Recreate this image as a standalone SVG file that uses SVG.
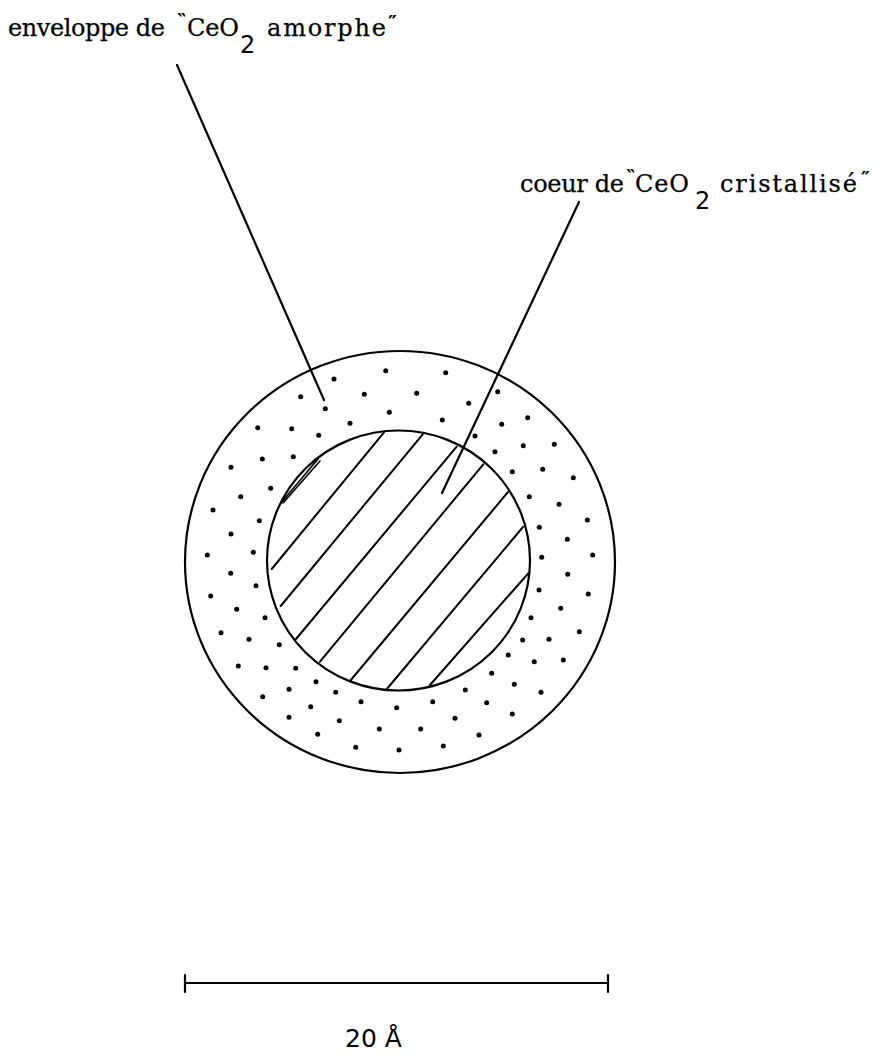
<svg xmlns="http://www.w3.org/2000/svg" width="893" height="1053" viewBox="0 0 893 1053">
<style>
.lbl{font-family:"DejaVu Serif","Liberation Serif",serif;font-size:24px;fill:#000;stroke:#000;stroke-width:0.25}
.sub{font-family:"DejaVu Sans","Liberation Sans",sans-serif;font-size:24px;fill:#000}
.q{font-family:"DejaVu Sans","Liberation Sans",sans-serif;font-size:20px;font-weight:bold;fill:#000}
.ln{stroke:#000;stroke-width:2.2;fill:none;stroke-linecap:round}
.dot{fill:#000}
</style>
<rect width="893" height="1053" fill="#fff"/>
<g id="shell">
<ellipse class="ln" cx="400" cy="562" rx="215" ry="211"/>
<g class="dot">
<circle cx="334" cy="379" r="2.5"/><circle cx="385.7" cy="370.7" r="2.5"/><circle cx="445.7" cy="372.7" r="2.5"/>
<circle cx="300.7" cy="396.7" r="2.5"/><circle cx="325.3" cy="408.7" r="2.5"/><circle cx="364.3" cy="394.3" r="2.5"/>
<circle cx="416.7" cy="393.3" r="2.5"/><circle cx="468.7" cy="403.3" r="2.5"/><circle cx="497.7" cy="391.7" r="2.5"/>
<circle cx="389.3" cy="412.3" r="2.5"/><circle cx="350" cy="423.3" r="2.5"/><circle cx="442.3" cy="420" r="2.5"/>
<circle cx="257.7" cy="427.7" r="2.5"/><circle cx="291.7" cy="428.7" r="2.5"/><circle cx="318.7" cy="435.3" r="2.5"/>
<circle cx="501.7" cy="424.3" r="2.5"/><circle cx="527.7" cy="417.7" r="2.5"/><circle cx="475" cy="436" r="2.5"/>
<circle cx="523.3" cy="445.7" r="2.5"/><circle cx="554.3" cy="444.3" r="2.5"/><circle cx="495" cy="451.7" r="2.5"/>
<circle cx="262.3" cy="459" r="2.5"/><circle cx="293.3" cy="456.7" r="2.5"/><circle cx="231" cy="467.3" r="2.5"/>
<circle cx="512.3" cy="471.7" r="2.5"/><circle cx="542.7" cy="469.3" r="2.5"/><circle cx="573.3" cy="477.7" r="2.5"/>
<circle cx="270.7" cy="488.3" r="2.5"/><circle cx="240.7" cy="496.7" r="2.5"/><circle cx="529.3" cy="496.7" r="2.5"/>
<circle cx="559" cy="504.3" r="2.5"/><circle cx="213" cy="510" r="2.5"/><circle cx="259.3" cy="520.7" r="2.5"/>
<circle cx="587.3" cy="520" r="2.5"/><circle cx="231" cy="534" r="2.5"/><circle cx="539.3" cy="527.3" r="2.5"/>
<circle cx="567.3" cy="539.3" r="2.5"/><circle cx="207.3" cy="555" r="2.5"/><circle cx="253.3" cy="552.3" r="2.5"/>
<circle cx="541.7" cy="557.3" r="2.5"/><circle cx="592.7" cy="555" r="2.5"/><circle cx="230.7" cy="573.3" r="2.5"/>
<circle cx="256" cy="585.7" r="2.5"/><circle cx="567.7" cy="574.3" r="2.5"/><circle cx="210.7" cy="596" r="2.5"/>
<circle cx="539" cy="590" r="2.5"/><circle cx="588.3" cy="594" r="2.5"/><circle cx="236.7" cy="609.3" r="2.5"/>
<circle cx="265" cy="617.7" r="2.5"/><circle cx="560.7" cy="608.3" r="2.5"/><circle cx="531" cy="617.7" r="2.5"/>
<circle cx="221" cy="632.7" r="2.5"/><circle cx="249" cy="639.3" r="2.5"/><circle cx="279.3" cy="644.7" r="2.5"/>
<circle cx="522.7" cy="640" r="2.5"/><circle cx="549" cy="639.3" r="2.5"/><circle cx="579.3" cy="631.7" r="2.5"/>
<circle cx="238.3" cy="666" r="2.5"/><circle cx="266" cy="667.7" r="2.5"/><circle cx="295.7" cy="668.3" r="2.5"/>
<circle cx="508.3" cy="655" r="2.5"/><circle cx="534.3" cy="661.7" r="2.5"/><circle cx="563.3" cy="660" r="2.5"/>
<circle cx="316" cy="681.7" r="2.5"/><circle cx="491.7" cy="673.3" r="2.5"/><circle cx="289" cy="689.3" r="2.5"/>
<circle cx="335.7" cy="692.3" r="2.5"/><circle cx="465.3" cy="690" r="2.5"/><circle cx="514.3" cy="684.3" r="2.5"/>
<circle cx="541" cy="692.3" r="2.5"/><circle cx="262.7" cy="696.7" r="2.5"/><circle cx="361" cy="701.7" r="2.5"/>
<circle cx="396.7" cy="707.7" r="2.5"/><circle cx="432.7" cy="701.7" r="2.5"/><circle cx="486.7" cy="702.7" r="2.5"/>
<circle cx="310.7" cy="706.7" r="2.5"/><circle cx="289" cy="717.3" r="2.5"/><circle cx="339.3" cy="720.7" r="2.5"/>
<circle cx="455" cy="718.3" r="2.5"/><circle cx="512.3" cy="714" r="2.5"/><circle cx="379.3" cy="729" r="2.5"/>
<circle cx="420.7" cy="729" r="2.5"/><circle cx="317.7" cy="734.3" r="2.5"/><circle cx="479" cy="735" r="2.5"/>
<circle cx="355.7" cy="747.3" r="2.5"/><circle cx="399" cy="750" r="2.5"/><circle cx="443.3" cy="746" r="2.5"/>
</g>
</g>
<g id="core">
<ellipse class="ln" cx="398.5" cy="560.5" rx="131.5" ry="130"/>
<g class="ln" style="stroke-width:2">
<line x1="271.7" y1="569" x2="384" y2="432.3"/>
<line x1="280.7" y1="606" x2="422.7" y2="434.3"/>
<line x1="296" y1="639" x2="456.7" y2="446.7"/>
<line x1="320" y1="661.7" x2="483.3" y2="464.3"/>
<line x1="350" y1="681" x2="508.3" y2="491.7"/>
<line x1="386" y1="690" x2="523.3" y2="526.7"/>
<line x1="430" y1="685" x2="528.3" y2="573.3"/>
<path d="M280,504 L318,459 M283,503 L320,461" style="stroke-width:1.6"/>
</g>
</g>
<g id="label-shell">
<text class="lbl" x="8" y="36" textLength="157" lengthAdjust="spacing">enveloppe de</text>
<text class="q" x="177" y="27">‶</text>
<text class="lbl" x="187" y="36" textLength="52" lengthAdjust="spacing">CeO</text>
<text class="sub" x="240" y="53">2</text>
<text class="lbl" x="267" y="36" textLength="119" lengthAdjust="spacing">amorphe</text>
<text class="q" x="388" y="29">″</text>
</g>
<g id="label-core">
<text class="lbl" x="520" y="192" textLength="104" lengthAdjust="spacing">coeur de</text>
<text class="q" x="626" y="183">‶</text>
<text class="lbl" x="635" y="192" textLength="54" lengthAdjust="spacing">CeO</text>
<text class="sub" x="695" y="209">2</text>
<text class="lbl" x="720" y="192" textLength="137" lengthAdjust="spacing">cristallisé</text>
<text class="q" x="861" y="185">″</text>
</g>
<g id="connectors">
<line class="ln" x1="177" y1="65" x2="324" y2="400"/>
<line class="ln" x1="579" y1="202" x2="442" y2="493"/>
</g>
<g id="scale">
<line class="ln" x1="185" y1="983" x2="608" y2="983"/>
<line class="ln" x1="185" y1="975" x2="185" y2="992"/>
<line class="ln" x1="608" y1="975" x2="608" y2="992"/>
<text class="sub" x="345" y="1047" style="font-size:25px">20 Å</text>
</g>
</svg>
